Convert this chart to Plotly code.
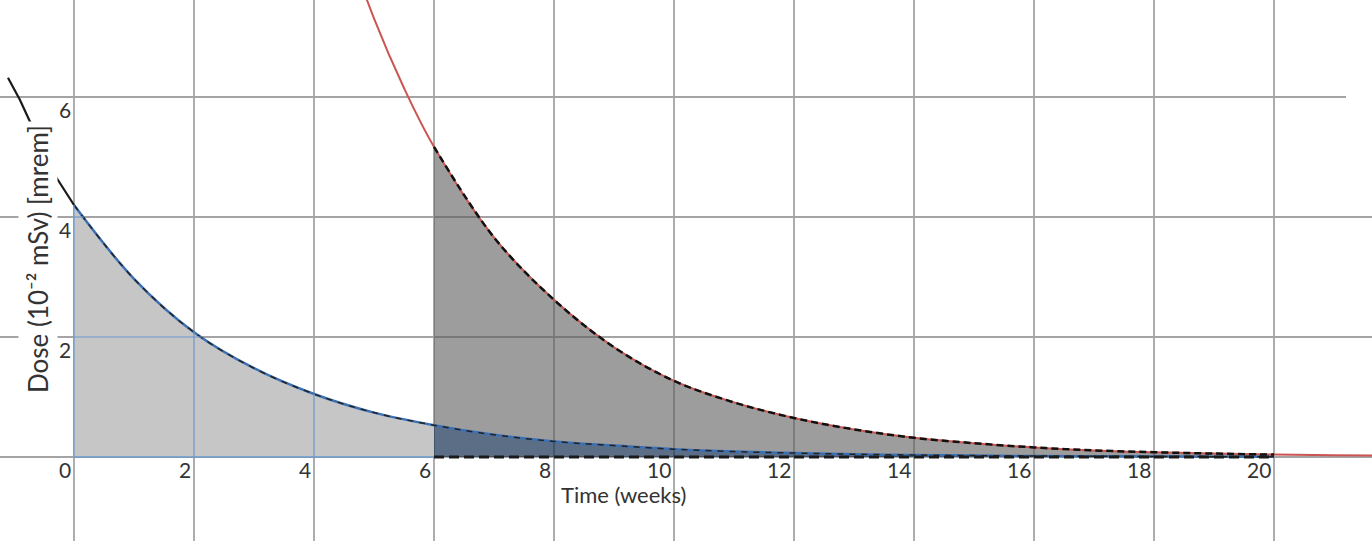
import plotly.graph_objects as go
import numpy as np

# ---- data (dose in 10^-2 mSv, time in weeks) ----
weeks_blue = [0, 1, 2, 3, 4, 5, 6, 7, 8, 9, 10, 11, 12, 13, 14, 15, 16, 17, 18, 19, 20]
dose_blue = [4.2, 2.97, 2.08, 1.48, 1.05, 0.74, 0.53, 0.37, 0.26, 0.19, 0.13, 0.09,
             0.066, 0.046, 0.033, 0.023, 0.016, 0.012, 0.008, 0.006, 0.004]

weeks_red = [4.5, 5, 5.5, 6, 7, 8, 9, 10, 11, 12, 13, 14, 15, 16, 17, 18, 19, 20, 21, 22]
dose_red = [8.7, 7.31, 6.15, 5.17, 3.66, 2.62, 1.83, 1.27, 0.91, 0.65, 0.46, 0.32,
            0.23, 0.16, 0.11, 0.08, 0.057, 0.04, 0.028, 0.02]

weeks_lead = [-1.1, -0.9, -0.6, -0.32, 0]
dose_lead = [6.32, 5.95, 5.3, 4.7, 4.2]

x_ticks = [0, 2, 4, 6, 8, 10, 12, 14, 16, 18, 20]
y_ticks = [0, 2, 4, 6]
y_tick_labels = ["", "2", "4", "6"]
x_tick_labels = [str(v) for v in x_ticks]

t_second = 6     # second dose time
t_end = 20       # end of integration

X_RANGE = [-1.233, 21.633]
Y_RANGE = [-1.4, 7.617]

wb = np.array(weeks_blue, float)
db = np.array(dose_blue, float)
wr = np.array(weeks_red, float)
dr = np.array(dose_red, float)

first = wb <= t_second
late_b = (wb >= t_second) & (wb <= t_end)
late_r = (wr >= t_second) & (wr <= t_end)

BLUE = "#3c70b4"
RED = "#cb5552"
GRID = "#a4a4a4"
GRID_BLUE = "#6a98cf"
TXT = "#333333"
FONT = "Lato"

fig = go.Figure()

# light grey area under first curve (0..6)
fig.add_trace(go.Scatter(x=wb[first], y=db[first], mode="lines", line=dict(width=0, shape="spline"),
                         fill="tozeroy", fillcolor="#c6c6c6", hoverinfo="skip"))
# dark blue-grey area under first curve (6..20)
fig.add_trace(go.Scatter(x=wb[late_b], y=db[late_b], mode="lines", line=dict(width=0, shape="spline"),
                         fill="tozeroy", fillcolor="rgba(22,48,82,0.7)", hoverinfo="skip"))
# grey area between first and second curve (6..20)
fig.add_trace(go.Scatter(x=wr[late_r], y=dr[late_r], mode="lines", line=dict(width=0, shape="spline"),
                         fill="tonexty", fillcolor="rgba(92,92,92,0.6)", hoverinfo="skip"))

# red curve
fig.add_trace(go.Scatter(x=wr, y=dr, mode="lines", line=dict(color=RED, width=2, shape="spline")))
# blue curve
fig.add_trace(go.Scatter(x=wb, y=db, mode="lines", line=dict(color=BLUE, width=2.5, shape="spline")))
# black lead-in segment
fig.add_trace(go.Scatter(x=weeks_lead, y=dose_lead, mode="lines", line=dict(color="#1a1a1a", width=2.2)))
# black dashed overlays
fig.add_trace(go.Scatter(x=wr[late_r], y=dr[late_r], mode="lines",
                         line=dict(color="#111111", width=2.5, dash="7px,4px", shape="spline")))
fig.add_trace(go.Scatter(x=wb, y=db, mode="lines",
                         line=dict(color="#222222", width=1.5, dash="6px,6px", shape="spline")))
fig.add_trace(go.Scatter(x=[t_second, t_end], y=[0, 0], mode="lines",
                         line=dict(color="#1a1a1a", width=3, dash="10px,5px")))

shapes = []
# grid lines (below)
for xv in x_ticks:
    shapes.append(dict(type="line", xref="x", yref="y", x0=xv, x1=xv, y0=Y_RANGE[0], y1=Y_RANGE[1],
                       line=dict(color=GRID, width=1.8), layer="below"))
for yv in y_ticks:
    x_stop = X_RANGE[1] if yv < 6 else 21.2
    shapes.append(dict(type="line", xref="x", yref="y", x0=X_RANGE[0], x1=x_stop, y0=yv, y1=yv,
                       line=dict(color=GRID, width=1.8), layer="below"))

# blue-tinted grid inside the light area
for xv in x_ticks:
    if 0 <= xv < t_second:
        top = float(np.interp(xv, wb, db))
        shapes.append(dict(type="line", xref="x", yref="y", x0=xv, x1=xv, y0=0, y1=top,
                           line=dict(color=GRID_BLUE, width=1.2), layer="above"))
for yv in y_ticks:
    if yv == 0:
        shapes.append(dict(type="line", xref="x", yref="y", x0=0, x1=t_second, y0=0, y1=0,
                           line=dict(color=GRID_BLUE, width=1.6), layer="above"))
    elif yv < db[0]:
        xc = float(np.interp(yv, db[::-1], wb[::-1]))
        shapes.append(dict(type="line", xref="x", yref="y", x0=0, x1=xc, y0=yv, y1=yv,
                           line=dict(color=GRID_BLUE, width=1.2), layer="above"))

annotations = []
for xv, lab in zip(x_ticks, x_tick_labels):
    annotations.append(dict(x=xv, y=0, xref="x", yref="y", text=lab, showarrow=False,
                            xanchor="right", yanchor="top", xshift=-1, yshift=2,
                            font=dict(family=FONT, size=21, color=TXT)))
for yv, lab in zip(y_ticks, y_tick_labels):
    if lab:
        annotations.append(dict(x=0, y=yv, xref="x", yref="y", text=lab, showarrow=False,
                                xanchor="right", yanchor="top", xshift=-1, yshift=2,
                                font=dict(family=FONT, size=21, color=TXT)))

annotations.append(dict(x=9.15, y=-0.62, xref="x", yref="y", text="Time (weeks)", showarrow=False,
                        xanchor="center", yanchor="middle",
                        font=dict(family=FONT, size=22, color=TXT)))
annotations.append(dict(x=-0.6, y=3.3, xref="x", yref="y", text="Dose (10⁻² mSv) [mrem]",
                        showarrow=False, textangle=-90, xanchor="center", yanchor="middle",
                        bgcolor="white", borderpad=3,
                        font=dict(family=FONT, size=26, color=TXT)))

fig.update_layout(
    width=1372, height=541,
    margin=dict(l=0, r=0, t=0, b=0),
    paper_bgcolor="white", plot_bgcolor="white",
    showlegend=False,
    xaxis=dict(range=X_RANGE, visible=False, fixedrange=True),
    yaxis=dict(range=Y_RANGE, visible=False, fixedrange=True),
    shapes=shapes, annotations=annotations,
)

fig.write_html("out.html", config={"displayModeBar": False},
               post_script="document.body.style.margin='0';document.body.style.overflow='hidden';")
